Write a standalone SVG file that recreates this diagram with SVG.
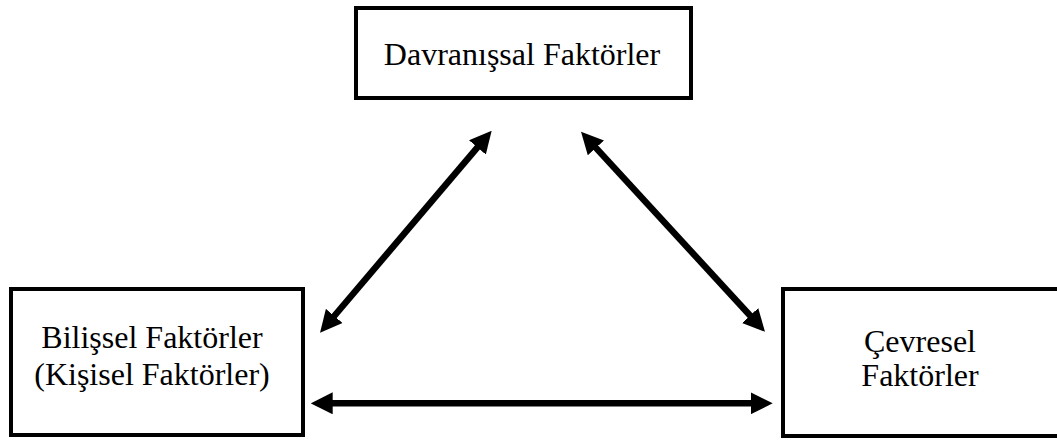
<svg xmlns="http://www.w3.org/2000/svg" width="1057" height="441" viewBox="0 0 1057 441">
  <style>
    .box { fill: #ffffff; stroke: #000000; stroke-width: 4; }
    .label { font-family: 'Times New Roman', 'Liberation Serif', Tinos, 'Noto Serif', 'DejaVu Serif', serif; font-size: 32px; fill: #000000; text-anchor: middle; }
    .link { stroke: #000000; stroke-width: 6.5; fill: none; marker-start: url(#head); marker-end: url(#head); }
  </style>
  <defs>
    <marker id="head" markerUnits="userSpaceOnUse" viewBox="0 0 22 22" refX="4" refY="11" markerWidth="22" markerHeight="22" orient="auto-start-reverse">
      <path d="M0,0 L22,11 L0,22 Z" fill="#000000"/>
    </marker>
  </defs>
  <rect width="1057" height="441" fill="#ffffff"/>

  <!-- two-way influences between the three factors -->
  <g id="connectors">
    <line class="link" x1="331.7" y1="319.0" x2="480.0" y2="144.4"/>
    <line class="link" x1="593.2" y1="144.9" x2="752.8" y2="318.5"/>
    <line class="link" x1="328.7" y1="403.3" x2="754.7" y2="403.3"/>
  </g>

  <g id="behavioural">
    <rect class="box" x="356" y="8" width="335" height="90"/>
    <text class="label" x="522" y="65">Davranışsal Faktörler</text>
  </g>

  <g id="cognitive">
    <rect class="box" x="11" y="289" width="292" height="146"/>
    <text class="label" x="152" y="348">Bilişsel Faktörler</text>
    <text class="label" x="152" y="385">(Kişisel Faktörler)</text>
  </g>

  <g id="environmental">
    <rect class="box" x="783" y="289" width="277" height="147"/>
    <text class="label" x="920" y="352">Çevresel</text>
    <text class="label" x="920" y="386">Faktörler</text>
  </g>
</svg>
